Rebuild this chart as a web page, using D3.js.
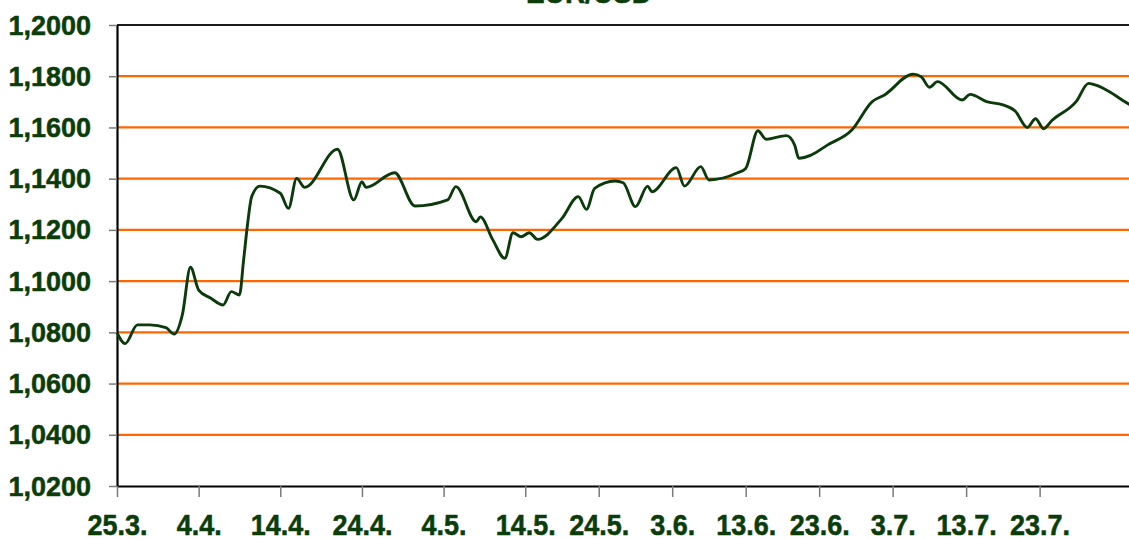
<!DOCTYPE html>
<html>
<head>
<meta charset="utf-8">
<script src="https://cdn.jsdelivr.net/npm/d3@7"></script>
<style>
  body { margin: 0; background: #fff; overflow: hidden; }
  text { font-family: "Liberation Sans", Arial, sans-serif; font-weight: bold; fill: #0b3d0b; }
</style>
</head>
<body>
<div id="chart"></div>
<script>

// EUR/USD rate (position on the category axis -> rate)
var dayIdx = [0, 2, 5, 8, 12, 14, 16, 18, 20, 23, 26, 28, 30, 31, 32, 33, 35, 40, 42, 44,
              46, 54, 58, 60, 61, 68, 73, 81, 83, 88, 89, 92, 95, 97, 99, 101, 103, 109, 113, 115,
              117, 122, 124, 127, 130, 131, 137, 139, 143, 145, 152, 154, 157, 159, 164, 166, 167, 170, 174, 180,
              185, 188, 195, 197, 199, 201, 207, 209, 213, 217, 220, 223, 225, 227, 229, 235, 238, 240, 243, 248, 252];
var rate = [1.0799, 1.0756, 1.0829, 1.0829, 1.0818, 1.0793, 1.0868, 1.1054, 1.0965, 1.0933, 1.0907, 1.0959, 1.0946, 1.1080, 1.1225, 1.1330, 1.1371, 1.1343, 1.1284, 1.1401,
            1.1366, 1.1515, 1.1317, 1.1388, 1.1366, 1.1423, 1.1293, 1.1317, 1.1369, 1.1232, 1.1251, 1.1163, 1.1089, 1.1189, 1.1173, 1.1189, 1.1163, 1.1245, 1.1330, 1.1280,
            1.1362, 1.1391, 1.1384, 1.1291, 1.1371, 1.1349, 1.1443, 1.1371, 1.1447, 1.1395, 1.1423, 1.1440, 1.1587, 1.1554, 1.1568, 1.1531, 1.1480, 1.1492, 1.1531, 1.1590,
            1.1701, 1.1727, 1.1808, 1.1798, 1.1757, 1.1779, 1.1707, 1.1729, 1.1701, 1.1688, 1.1664, 1.1600, 1.1634, 1.1595, 1.1627, 1.1702, 1.1772, 1.1764, 1.1740, 1.1690, 1.1665];

var tickIdx = [0, 20, 40, 60, 80, 100, 118, 136, 154, 172, 190, 208, 226];
var tickLabels = ["25.3.", "4.4.", "14.4.", "24.4.", "4.5.", "14.5.", "24.5.", "3.6.", "13.6.", "23.6.", "3.7.", "13.7.", "23.7."];
var yTicks = [1.02, 1.04, 1.06, 1.08, 1.10, 1.12, 1.14, 1.16, 1.18, 1.20];

var data = dayIdx.map(function(d, i) { return {idx: d, rate: rate[i]}; });

var margin = {top: 25, left: 117},
    width = 1041,
    height = 461;

var svg = d3.select("#chart")
            .append("svg")
              .attr("width", 1129)
              .attr("height", 539)
            .append("g")
              .attr("transform", "translate(" + margin.left + "," + margin.top + ")");

var xScale = d3.scaleLinear().domain([0, 255]).range([0, width]);
var yScale = d3.scaleLinear().domain([1.02, 1.20]).range([height, 0]);

// orange gridlines
svg.selectAll(".grid")
   .data(yTicks.slice(1))
   .enter().append("line")
     .attr("x1", 0)
     .attr("x2", width)
     .attr("y1", d => yScale(d))
     .attr("y2", d => yScale(d))
     .attr("stroke", "#ff6600")
     .attr("stroke-width", 2.2);

// top border of the plot area
svg.append("line")
   .attr("x1", 0).attr("x2", width)
   .attr("y1", yScale(1.20)).attr("y2", yScale(1.20))
   .attr("stroke", "#1a1a1a")
   .attr("stroke-width", 2);

// Y axis
var yAxis = svg.append("g")
               .call(d3.axisLeft(yScale)
                       .tickValues(yTicks)
                       .tickSize(8)
                       .tickSizeOuter(0)
                       .tickPadding(18)
                       .tickFormat(d => d3.format(".4f")(d).replace(".", ",")));

// X axis
var xAxis = svg.append("g")
               .attr("transform", "translate(0," + height + ")")
               .call(d3.axisBottom(xScale)
                       .tickValues(tickIdx)
                       .tickSize(11)
                       .tickSizeOuter(0)
                       .tickPadding(14.5)
                       .tickFormat((d, i) => tickLabels[i]));

[xAxis, yAxis].forEach(function(ax) {
  ax.select(".domain").attr("stroke", "#000").attr("stroke-width", 2.2);
  ax.selectAll(".tick line").attr("stroke", "#7a7a7a").attr("stroke-width", 1.5);
  ax.selectAll(".tick text")
    .attr("fill", "#0b3d0b")
    .attr("stroke", "#0b3d0b")
    .attr("stroke-width", 0.5)
    .style("font-size", "27px");
});
yAxis.selectAll(".tick text").attr("transform", "scale(1,1.05)");
xAxis.selectAll(".tick text").attr("transform", "scale(1,1.1)");

// rate line
svg.append("path")
   .datum(data)
   .attr("fill", "none")
   .attr("stroke", "#0b3a0b")
   .attr("stroke-width", 2.9)
   .attr("stroke-linejoin", "round")
   .attr("d", d3.line()
     .curve(d3.curveMonotoneX)
     .x(d => xScale(d.idx))
     .y(d => yScale(d.rate)));

// title (cut at the top edge)
svg.append("text")
   .attr("transform", "translate(" + (589 - margin.left) + "," + (3 - margin.top) + ") scale(1,1.1)")
   .attr("text-anchor", "middle")
   .attr("stroke", "#0b3d0b")
   .attr("stroke-width", 0.5)
   .style("font-size", "28px")
   .text("EUR/USD");

</script>
</body>
</html>
